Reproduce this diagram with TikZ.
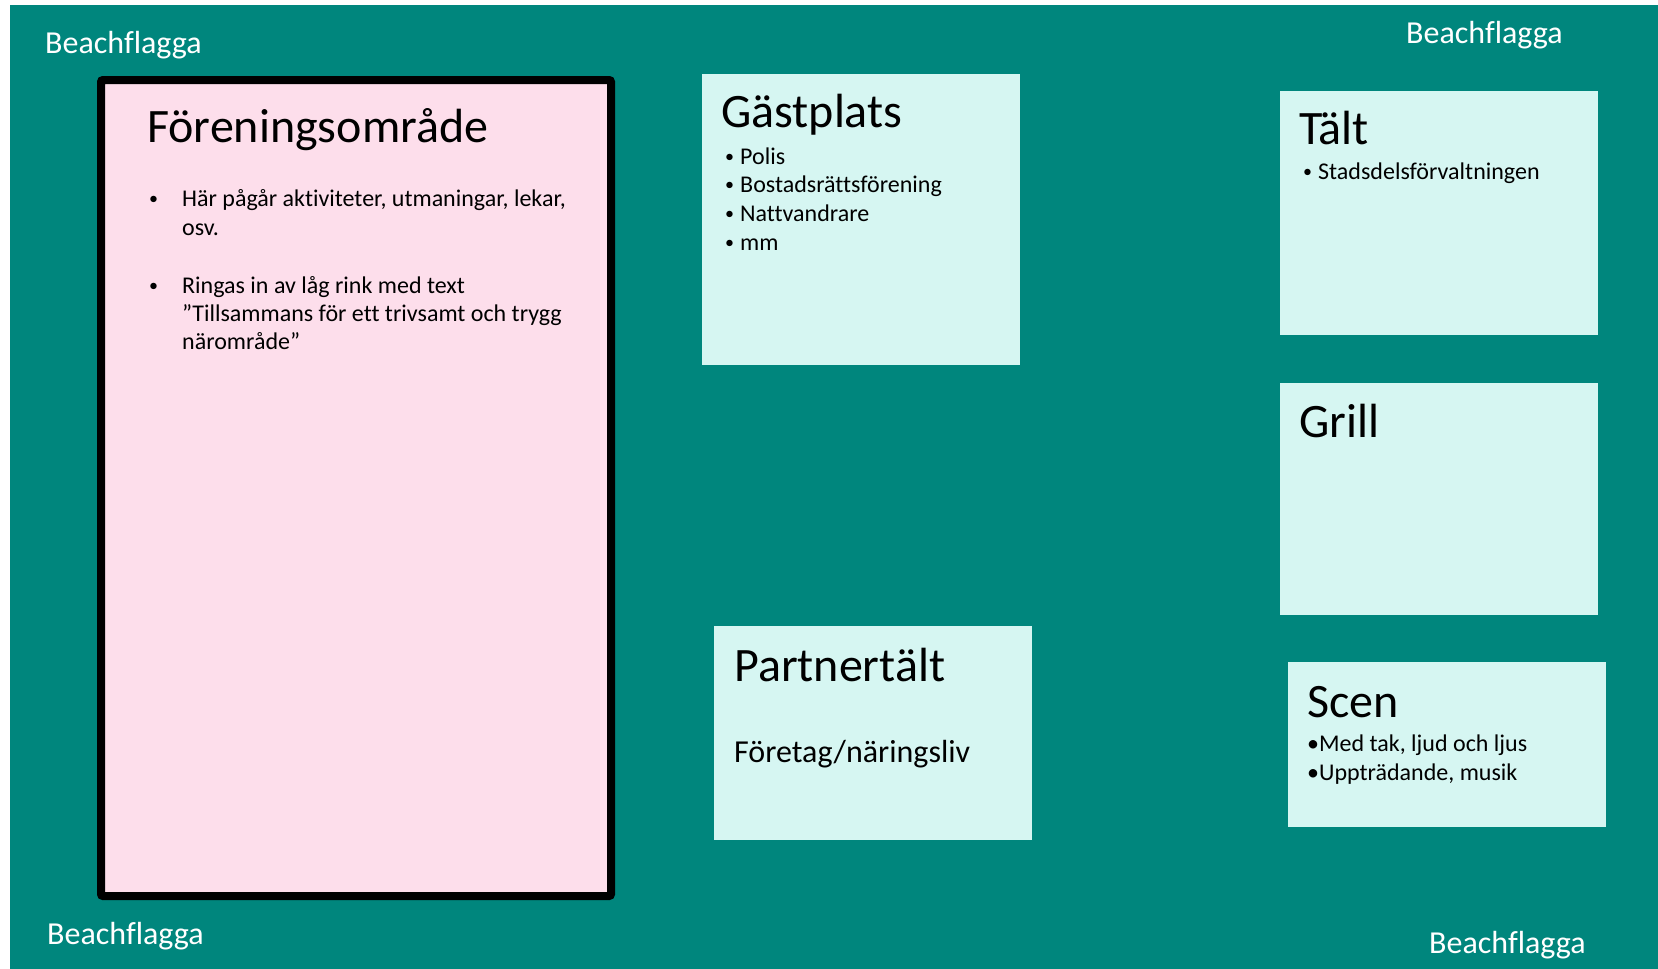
\documentclass[tikz,border=0pt]{standalone}
\usepackage{fontspec}
\setmainfont{Carlito}[Ligatures={TeX,NoCommon}]
\usepackage{tikz}
\definecolor{mapteal}{RGB}{0,134,125}
\definecolor{zonecyan}{RGB}{214,246,242}
\definecolor{zonepink}{RGB}{253,222,235}
\tikzset{
  zone/.style={fill=zonecyan, draw=none, anchor=north west, inner sep=0pt, outer sep=0pt},
  zonetitle/.style={anchor=base west, inner sep=0pt, font=\fontsize{48}{58}\selectfont},
  zoneitem/.style={anchor=base west, inner sep=0pt, font=\fontsize{24}{29}\selectfont},
  flag/.style={anchor=base west, inner sep=0pt, text=white, font=\fontsize{32}{38}\selectfont}
}
\newcommand{\bul}[1]{\makebox[#1][l]{\raisebox{1.8pt}{\fontsize{18}{20}\selectfont\textbullet}}}

\begin{document}
\begin{tikzpicture}[x=1pt, y=-1pt]
\useasboundingbox (0,0) rectangle (1658,969);
\fill[white] (0,0) rectangle (1658,969);
% Ground
\fill[mapteal] (10,5) rectangle (1658,969);

% Flags in the corners
\node[flag] (flag-nw) at (45,53) {Beachflagga};
\node[flag] (flag-ne) at (1406,43) {Beachflagga};
\node[flag] (flag-sw) at (47,944) {Beachflagga};
\node[flag] (flag-se) at (1429,953) {Beachflagga};

% Areas
\node[zone, fill=zonepink, draw=black, line width=8pt, rounded corners=2pt,
  minimum width=510pt, minimum height=816pt] (forening) at (101,80) {};
\node[zone, minimum width=318pt, minimum height=291pt] (gast) at (702,74) {};
\node[zone, minimum width=318pt, minimum height=244pt] (talt) at (1280,91) {};
\node[zone, minimum width=318pt, minimum height=232pt] (grill) at (1280,383) {};
\node[zone, minimum width=318pt, minimum height=214pt] (partner) at (714,626) {};
\node[zone, minimum width=318pt, minimum height=165pt] (scen) at (1288,662) {};

% Föreningsområde
\node[zonetitle] (forening-t) at (147,142) {Föreningsområde};
\node[zoneitem] (forening-1) at (149,206) {\bul{33pt}Här pågår aktiviteter, utmaningar, lekar,};
\node[zoneitem] (forening-1b) at (182,235) {osv.};
\node[zoneitem] (forening-2) at (149,293) {\bul{33pt}Ringas in av låg rink med text};
\node[zoneitem] (forening-2b) at (182,321) {”Tillsammans för ett trivsamt och trygg};
\node[zoneitem] (forening-2c) at (182,349) {närområde”};

% Gästplats
\node[zonetitle] (gast-t) at (721,127) {Gästplats};
\foreach \txt [count=\i] in {Polis, Bostadsrättsförening, Nattvandrare, mm}
  \node[zoneitem] (gast-\i) at (725,{164+28.7*(\i-1)}) {\bul{15pt}\txt};

% Tält
\node[zonetitle] (talt-t) at (1299,144) {Tält};
\node[zoneitem] (talt-1) at (1303,179) {\bul{15pt}Stadsdelsförvaltningen};

% Grill
\node[zonetitle] (grill-t) at (1299,437) {Grill};

% Partnertält
\node[zonetitle] (partner-t) at (734,681) {Partnertält};
\node[anchor=base west, inner sep=0pt, font=\fontsize{32}{38}\selectfont] (partner-1) at (734,762) {Företag/näringsliv};

% Scen
\node[zonetitle] (scen-t) at (1307,717) {Scen};
\node[zoneitem] (scen-1) at (1307,751) {\textbullet Med tak, ljud och ljus};
\node[zoneitem] (scen-2) at (1307,780) {\textbullet Uppträdande, musik};
\end{tikzpicture}
\end{document}
